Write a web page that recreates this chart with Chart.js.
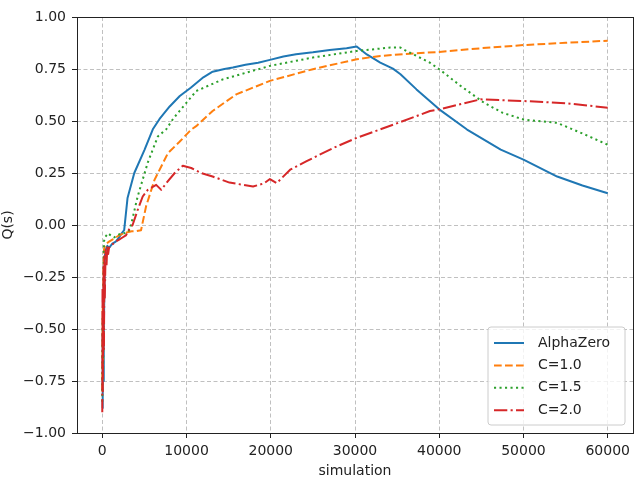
<!DOCTYPE html>
<html><head><meta charset="utf-8">
<script src="https://cdn.jsdelivr.net/npm/chart.js@4"></script>
<style>html,body{margin:0;padding:0;background:#fff;}canvas{display:block}</style>
</head><body>
<canvas id="c" width="644" height="492"></canvas>
<script>
const seriesNames = ['AlphaZero', 'C=1.0', 'C=1.5', 'C=2.0'];
const xTickValues = [0, 10000, 20000, 30000, 40000, 50000, 60000];
const yTickValues = [-1, -0.75, -0.5, -0.25, 0, 0.25, 0.5, 0.75, 1];

const alphaX = [0, 50, 100, 150, 200, 300, 400, 600, 800, 1200, 1600, 2000, 2300, 2600, 3000, 3800, 5000, 6000, 6800, 8000, 9200, 10500, 12000, 13100, 14500, 15500, 17000, 18500, 19900, 21500, 23000, 25000, 27000, 29000, 30200, 31400, 33000, 34500, 35400, 37300, 40000, 43300, 47300, 50000, 54000, 57000, 60000];
const alphaY = [-0.88, -0.5, -0.75, -0.3, -0.55, -0.15, -0.12, -0.1, -0.11, -0.09, -0.08, -0.06, -0.04, -0.025, 0.13, 0.25, 0.36, 0.46, 0.51, 0.57, 0.62, 0.66, 0.71, 0.737, 0.75, 0.757, 0.77, 0.78, 0.794, 0.81, 0.821, 0.83, 0.841, 0.85, 0.858, 0.82, 0.781, 0.752, 0.725, 0.652, 0.556, 0.459, 0.362, 0.314, 0.233, 0.19, 0.153];

const c10X = [0, 50, 100, 150, 200, 300, 500, 800, 1200, 1600, 2000, 2500, 3000, 3500, 4000, 4600, 5200, 6200, 7800, 9170, 10560, 11150, 13100, 15900, 19900, 25000, 30200, 33000, 38500, 40000, 45000, 50000, 55000, 60000];
const c10Y = [-0.8, -0.4, -0.65, -0.2, -0.12, -0.1, -0.09, -0.08, -0.07, -0.06, -0.05, -0.04, -0.035, -0.03, -0.03, -0.025, 0.09, 0.217, 0.346, 0.40, 0.459, 0.475, 0.548, 0.628, 0.693, 0.749, 0.797, 0.813, 0.829, 0.832, 0.85, 0.865, 0.876, 0.886];

const c15X = [0, 50, 100, 150, 200, 300, 500, 700, 1000, 1400, 1800, 2200, 2600, 3000, 3300, 4200, 5400, 6600, 7600, 8400, 9170, 11150, 14300, 19900, 25000, 30200, 34200, 35400, 36100, 36900, 38900, 40000, 42500, 45300, 47500, 50000, 54000, 57000, 60000];
const c15Y = [-0.85, -0.45, -0.7, -0.2, -0.08, -0.06, -0.05, -0.04, -0.05, -0.06, -0.05, -0.04, -0.04, -0.035, -0.02, 0.137, 0.30, 0.426, 0.46, 0.51, 0.548, 0.644, 0.700, 0.765, 0.805, 0.837, 0.853, 0.853, 0.837, 0.821, 0.78, 0.749, 0.67, 0.588, 0.54, 0.507, 0.491, 0.44, 0.386];

const c20X = [0, 30, 60, 100, 150, 200, 250, 300, 400, 500, 600, 700, 800, 1000, 1300, 1600, 2000, 2400, 2800, 3200, 3600, 4200, 4800, 5400, 6400, 7000, 7600, 8600, 9560, 10560, 11750, 13100, 15100, 17900, 19200, 19900, 20700, 22300, 24200, 27400, 30200, 34600, 38900, 40000, 44900, 50000, 55200, 60000];
const c20Y = [-0.9, -0.3, -0.8, -0.5, -0.2, -0.6, -0.15, -0.35, -0.12, -0.2, -0.1, -0.14, -0.11, -0.1, -0.09, -0.08, -0.07, -0.06, -0.05, -0.02, 0.0, 0.072, 0.137, 0.169, 0.193, 0.169, 0.201, 0.25, 0.285, 0.274, 0.25, 0.233, 0.204, 0.185, 0.2, 0.221, 0.201, 0.266, 0.306, 0.37, 0.419, 0.483, 0.548, 0.556, 0.604, 0.596, 0.585, 0.564];

const FONT = 'DejaVu Sans';
const TEXT = '#222';
const pts = (xs, ys) => xs.map((x, i) => ({x: x, y: ys[i]}));

const styles = [
  {color: '#1f77b4', dash: [], order: 4},
  {color: '#ff7f0e', dash: [7.7, 3.3], order: 3},
  {color: '#2ca02c', dash: [2.1, 3.4], order: 2},
  {color: '#d62728', dash: [13.3, 3.3, 2.1, 3.3], order: 1}
];
const allData = [pts(alphaX, alphaY), pts(c10X, c10Y), pts(c15X, c15Y), pts(c20X, c20Y)];

const datasets = seriesNames.map((n, i) => ({
  label: n,
  data: allData[i],
  borderColor: styles[i].color,
  backgroundColor: styles[i].color,
  borderDash: styles[i].dash,
  borderWidth: 2,
  borderCapStyle: 'butt',
  borderJoinStyle: 'round',
  pointRadius: 0,
  tension: 0,
  fill: false,
  order: styles[i].order
}));

const framePlugin = {
  id: 'frame',
  afterDraw(chart) {
    const ctx = chart.ctx, a = chart.chartArea;
    ctx.save();
    ctx.strokeStyle = '#222';
    ctx.lineWidth = 1;
    ctx.setLineDash([]);
    ctx.strokeRect(Math.round(a.left) + 0.5, Math.round(a.top) + 0.5, Math.round(a.right - a.left), Math.round(a.bottom - a.top));
    // legend
    const x0 = a.right - 145, y0 = a.bottom - 106, w = 137, h = 98, r = 3;
    ctx.beginPath();
    ctx.moveTo(x0 + r, y0);
    ctx.arcTo(x0 + w, y0, x0 + w, y0 + h, r);
    ctx.arcTo(x0 + w, y0 + h, x0, y0 + h, r);
    ctx.arcTo(x0, y0 + h, x0, y0, r);
    ctx.arcTo(x0, y0, x0 + w, y0, r);
    ctx.closePath();
    ctx.fillStyle = 'rgba(255,255,255,0.8)';
    ctx.fill();
    ctx.strokeStyle = '#cccccc';
    ctx.stroke();
    ctx.font = '14px "' + FONT + '"';
    ctx.textBaseline = 'middle';
    ctx.textAlign = 'left';
    chart.data.datasets.forEach((ds, i) => {
      const yy = y0 + 16 + i * 22.4;
      ctx.beginPath();
      ctx.setLineDash(ds.borderDash);
      ctx.lineCap = 'butt';
      ctx.strokeStyle = ds.borderColor;
      ctx.lineWidth = 2;
      ctx.moveTo(x0 + 6, yy);
      ctx.lineTo(x0 + 36, yy);
      ctx.stroke();
      ctx.setLineDash([]);
      ctx.fillStyle = TEXT;
      ctx.fillText(ds.label, x0 + 50, yy);
    });
    ctx.restore();
  }
};

new Chart(document.getElementById('c'), {
  type: 'line',
  data: {datasets: datasets},
  options: {
    responsive: false,
    animation: false,
    layout: {padding: {left: 0, top: 17, right: 11, bottom: 0}},
    plugins: {legend: {display: false}, tooltip: {enabled: false}},
    scales: {
      x: {
        type: 'linear',
        min: -3000, max: 63000,
        afterBuildTicks: ax => { ax.ticks = xTickValues.map(v => ({value: v})); },
        afterFit: ax => { ax.height = 59; },
        ticks: {
          color: TEXT, font: {family: FONT, size: 14}, padding: 5, maxRotation: 0, autoSkip: false,
          callback: v => String(v)
        },
        grid: {color: '#b0b0b0', lineWidth: 0.8, drawTicks: true, tickLength: 5, tickColor: '#222', tickWidth: 1, tickBorderDash: []},
        border: {display: false, dash: [4, 2.5]},
        title: {display: true, text: 'simulation', color: TEXT, font: {family: FONT, size: 14}, padding: {top: 0, bottom: 12}}
      },
      y: {
        type: 'linear',
        min: -1, max: 1,
        afterBuildTicks: ax => { ax.ticks = yTickValues.map(v => ({value: v})); },
        afterFit: ax => { ax.width = 77; },
        ticks: {
          color: TEXT, font: {family: FONT, size: 14}, padding: 6, autoSkip: false,
          callback: v => (v < 0 ? '\u2212' : '') + Math.abs(v).toFixed(2)
        },
        grid: {color: '#b0b0b0', lineWidth: 0.8, drawTicks: true, tickLength: 5, tickColor: '#222', tickWidth: 1, tickBorderDash: []},
        border: {display: false, dash: [4, 2.5]},
        title: {display: true, text: 'Q(s)', color: TEXT, font: {family: FONT, size: 14}, padding: {top: 0, bottom: 0}}
      }
    }
  },
  plugins: [framePlugin]
});
</script>
</body></html>
